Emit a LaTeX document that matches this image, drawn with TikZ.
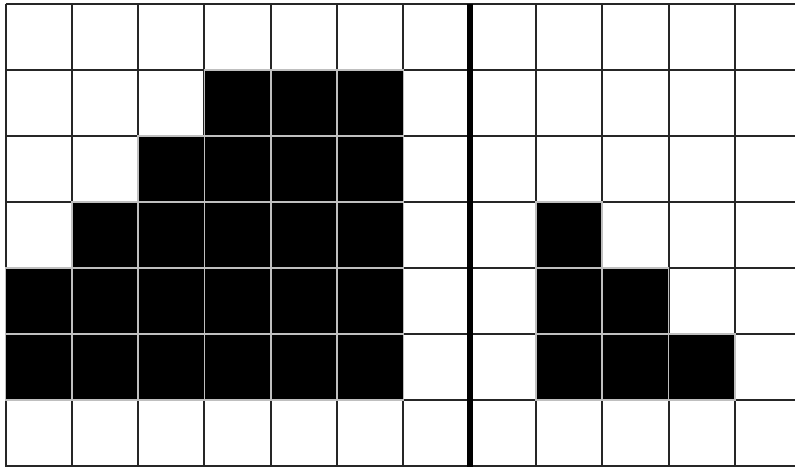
\documentclass[tikz,border=0pt]{standalone}
\usepackage{tikz}
\tikzset{
  gridln/.style={line width=1pt,draw=black!85},
  blk/.style={fill=black,draw=black!25,line width=0.8pt},
  sep/.style={line width=3pt,draw=black},
}
\newcommand{\cw}{66.3}
\newcommand{\rh}{66.0}

\begin{document}
\begin{tikzpicture}[x=0.5pt,y=-0.5pt]
 \useasboundingbox (0,0) rectangle (795,466);
 \clip (0,0) rectangle (795,466);
 \fill[white] (0,0) rectangle (795,466);
 % grid
 \foreach \i in {0,...,12} \draw[gridln] (5.5+\cw*\i,4) -- (5.5+\cw*\i,470);
 \foreach \j in {0,...,7} \draw[gridln] (5.5,4+\rh*\j) -- (800,4+\rh*\j);
 % left shape
 \foreach \r/\a/\b in {1/3/5,2/2/5,3/1/5,4/0/5,5/0/5}
  \foreach \c in {\a,...,\b}
   \filldraw[blk] (5.5+\cw*\c,4+\rh*\r) rectangle ++(\cw,\rh);
 % right shape
 \foreach \r/\b in {3/8,4/9,5/10}
  \foreach \c in {8,...,\b}
   \filldraw[blk] (5.5+\cw*\c,4+\rh*\r) rectangle ++(\cw,\rh);
 % separator
 \draw[sep] (5.5+\cw*7,4) -- (5.5+\cw*7,470);
\end{tikzpicture}
\end{document}
